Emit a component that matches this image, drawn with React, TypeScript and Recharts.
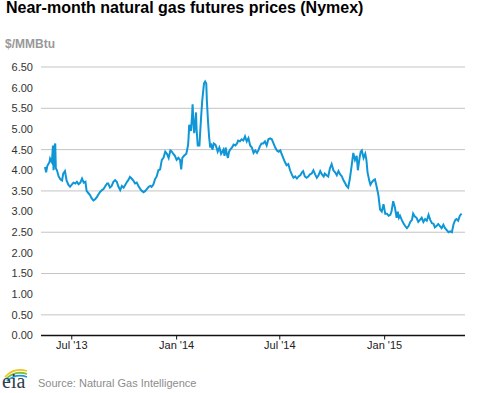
import { LineChart, Line, XAxis, YAxis, CartesianGrid } from "recharts";

// near-month settle prices, $/MMBtu
const DATES = [
  "2013-05-15", "2013-05-17", "2013-05-19", "2013-05-23", "2013-05-24", "2013-05-27", "2013-05-29", "2013-05-30",
  "2013-06-01", "2013-06-02", "2013-06-03", "2013-06-05", "2013-06-08", "2013-06-11", "2013-06-14", "2013-06-16",
  "2013-06-19", "2013-06-22", "2013-06-25", "2013-06-28", "2013-07-01", "2013-07-04", "2013-07-07", "2013-07-10",
  "2013-07-13", "2013-07-16", "2013-07-19", "2013-07-22", "2013-07-25", "2013-07-27", "2013-07-30", "2013-08-02",
  "2013-08-05", "2013-08-08", "2013-08-11", "2013-08-14", "2013-08-17", "2013-08-20", "2013-08-23", "2013-08-26",
  "2013-08-29", "2013-09-01", "2013-09-03", "2013-09-06", "2013-09-09", "2013-09-12", "2013-09-15", "2013-09-18",
  "2013-09-21", "2013-09-24", "2013-09-27", "2013-09-30", "2013-10-03", "2013-10-06", "2013-10-09", "2013-10-11",
  "2013-10-14", "2013-10-17", "2013-10-20", "2013-10-23", "2013-10-26", "2013-10-29", "2013-11-01", "2013-11-04",
  "2013-11-07", "2013-11-10", "2013-11-13", "2013-11-16", "2013-11-18", "2013-11-21", "2013-11-24", "2013-11-27",
  "2013-11-30", "2013-12-03", "2013-12-06", "2013-12-09", "2013-12-12", "2013-12-15", "2013-12-18", "2013-12-21",
  "2013-12-23", "2013-12-26", "2013-12-29", "2014-01-01", "2014-01-04", "2014-01-07", "2014-01-09", "2014-01-11",
  "2014-01-14", "2014-01-18", "2014-01-21", "2014-01-22", "2014-01-23", "2014-01-26", "2014-01-28", "2014-01-29",
  "2014-01-31", "2014-02-01", "2014-02-04", "2014-02-05", "2014-02-07", "2014-02-10", "2014-02-11", "2014-02-13",
  "2014-02-15", "2014-02-18", "2014-02-20", "2014-02-22", "2014-02-23", "2014-02-25", "2014-02-27", "2014-03-01",
  "2014-03-02", "2014-03-05", "2014-03-07", "2014-03-10", "2014-03-12", "2014-03-14", "2014-03-17", "2014-03-18",
  "2014-03-20", "2014-03-22", "2014-03-24", "2014-03-26", "2014-03-28", "2014-03-30", "2014-04-01", "2014-04-03",
  "2014-04-05", "2014-04-08", "2014-04-11", "2014-04-14", "2014-04-17", "2014-04-19", "2014-04-22", "2014-04-25",
  "2014-04-28", "2014-05-01", "2014-05-04", "2014-05-07", "2014-05-10", "2014-05-13", "2014-05-16", "2014-05-19",
  "2014-05-22", "2014-05-25", "2014-05-27", "2014-05-30", "2014-06-02", "2014-06-05", "2014-06-08", "2014-06-11",
  "2014-06-14", "2014-06-17", "2014-06-20", "2014-06-23", "2014-06-26", "2014-06-29", "2014-07-02", "2014-07-04",
  "2014-07-07", "2014-07-10", "2014-07-13", "2014-07-16", "2014-07-19", "2014-07-22", "2014-07-25", "2014-07-28",
  "2014-07-31", "2014-08-03", "2014-08-06", "2014-08-09", "2014-08-11", "2014-08-14", "2014-08-17", "2014-08-20",
  "2014-08-23", "2014-08-26", "2014-08-29", "2014-09-01", "2014-09-04", "2014-09-07", "2014-09-10", "2014-09-13",
  "2014-09-16", "2014-09-18", "2014-09-21", "2014-09-24", "2014-09-27", "2014-09-30", "2014-10-03", "2014-10-06",
  "2014-10-09", "2014-10-12", "2014-10-15", "2014-10-18", "2014-10-21", "2014-10-24", "2014-10-26", "2014-10-29",
  "2014-11-01", "2014-11-04", "2014-11-07", "2014-11-10", "2014-11-13", "2014-11-15", "2014-11-18", "2014-11-20",
  "2014-11-22", "2014-11-25", "2014-11-28", "2014-11-30", "2014-12-02", "2014-12-05", "2014-12-07", "2014-12-09",
  "2014-12-12", "2014-12-15", "2014-12-18", "2014-12-21", "2014-12-24", "2014-12-27", "2014-12-30", "2015-01-02",
  "2015-01-05", "2015-01-08", "2015-01-11", "2015-01-13", "2015-01-16", "2015-01-19", "2015-01-22", "2015-01-24",
  "2015-01-26", "2015-01-28", "2015-01-31", "2015-02-03", "2015-02-06", "2015-02-09", "2015-02-12", "2015-02-15",
  "2015-02-18", "2015-02-20", "2015-02-23", "2015-02-26", "2015-03-01", "2015-03-04", "2015-03-07", "2015-03-10",
  "2015-03-13", "2015-03-16", "2015-03-19", "2015-03-22", "2015-03-25", "2015-03-28", "2015-03-30", "2015-04-02",
  "2015-04-05", "2015-04-08", "2015-04-11", "2015-04-14", "2015-04-17", "2015-04-20", "2015-04-23", "2015-04-26",
  "2015-04-29", "2015-05-02", "2015-05-05", "2015-05-07", "2015-05-10", "2015-05-13", "2015-05-16",
];

const PRICES = [
  4.08, 3.95, 4.1, 4.2, 4.28, 4.2, 4.6, 4.0,
  4.6, 4.65, 4.05, 4.0, 3.85, 3.78, 3.75, 3.92,
  3.98, 3.75, 3.65, 3.6, 3.65, 3.7, 3.68, 3.72,
  3.66, 3.7, 3.8, 3.7, 3.72, 3.5, 3.45, 3.4,
  3.32, 3.27, 3.3, 3.35, 3.42, 3.48, 3.52, 3.55,
  3.62, 3.68, 3.68, 3.58, 3.62, 3.72, 3.76, 3.72,
  3.6, 3.52, 3.62, 3.58, 3.65, 3.72, 3.78, 3.84,
  3.8, 3.75, 3.68, 3.7, 3.62, 3.55, 3.5, 3.47,
  3.5, 3.55, 3.6, 3.62, 3.6, 3.65, 3.78, 3.85,
  4.0, 4.02, 4.25, 4.3, 4.45, 4.4, 4.3, 4.48,
  4.46, 4.4, 4.35, 4.25, 4.3, 4.25, 4.02, 4.3,
  4.35, 4.4, 4.6, 4.8, 5.1, 4.95, 5.3, 5.6,
  5.0, 4.9, 5.4, 5.0, 4.6, 4.6, 4.85, 5.3,
  5.7, 6.1, 6.15, 6.1, 5.7, 5.2, 4.8, 4.55,
  4.65, 4.5, 4.65, 4.62, 4.55, 4.45, 4.55, 4.5,
  4.4, 4.45, 4.5, 4.35, 4.55, 4.4, 4.3, 4.45,
  4.5, 4.55, 4.62, 4.6, 4.65, 4.72, 4.7, 4.75,
  4.72, 4.82, 4.7, 4.78, 4.6, 4.55, 4.42, 4.48,
  4.42, 4.5, 4.58, 4.65, 4.65, 4.7, 4.6, 4.75,
  4.77, 4.75, 4.65, 4.55, 4.48, 4.45, 4.48, 4.4,
  4.3, 4.2, 4.12, 4.15, 4.0, 3.9, 3.82, 3.85,
  3.8, 3.85, 3.88, 3.95, 3.98, 3.85, 3.82, 3.85,
  3.9, 3.92, 4.0, 3.9, 3.82, 3.88, 3.98, 3.9,
  3.85, 3.92, 3.88, 3.85, 4.05, 4.15, 4.0, 3.95,
  3.88, 3.98, 3.9, 3.85, 3.75, 3.68, 3.62, 3.58,
  3.8, 4.1, 4.42, 4.25, 4.35, 4.0, 4.3, 4.45,
  4.48, 4.3, 4.4, 4.25, 3.95, 3.75, 3.65, 3.7,
  3.75, 3.78, 3.6, 3.4, 3.05, 3.0, 3.18, 2.95,
  2.95, 2.9, 2.92, 3.0, 3.25, 3.1, 2.85, 3.0,
  2.85, 2.9, 2.8, 2.72, 2.65, 2.6, 2.65, 2.75,
  2.8, 2.95, 2.88, 2.85, 2.75, 2.8, 2.85, 2.75,
  2.82, 2.78, 2.92, 2.8, 2.72, 2.7, 2.62, 2.65,
  2.7, 2.65, 2.6, 2.68, 2.6, 2.55, 2.5, 2.52,
  2.5, 2.7, 2.8, 2.82, 2.78, 2.9, 2.95,
];

const TICK_DATES = ["2013-07-01", "2014-01-01", "2014-07-01", "2015-01-01"];
const TICK_LABELS = ["Jul '13", "Jan '14", "Jul '14", "Jan '15"];
const Y_TICKS = [0, 0.5, 1, 1.5, 2, 2.5, 3, 3.5, 4, 4.5, 5, 5.5, 6, 6.5];
const X_START = "2013-05-08";
const X_END = "2015-05-22";

const toDay = (s: string) => {
  const [y, m, d] = s.split("-").map(Number);
  return Date.UTC(y, m - 1, d) / 86400000;
};

const data = DATES.map((d, i) => ({ t: toDay(d), price: PRICES[i] }));
const xTicks = TICK_DATES.map(toDay);

const FONT = "'Liberation Sans', Arial, sans-serif";

function EiaLogo() {
  return (
    <svg width={34} height={31} style={{ position: "absolute", left: 0, top: 362 }}>
      <path d="M5 15 Q14 5 27 9" stroke="#f2c31a" strokeWidth={1.8} fill="none" />
      <path d="M6 17 Q15 8 27 12" stroke="#7cbf42" strokeWidth={1.8} fill="none" />
      <path d="M7 19 Q16 11 27 15" stroke="#1a9ad6" strokeWidth={1.8} fill="none" />
      <text x={2} y={26} fontFamily="'Liberation Serif', serif" fontSize={20} fill="#2d3b4b">
        eia
      </text>
    </svg>
  );
}

export default function App() {
  return (
    <div
      style={{
        position: "absolute",
        left: 0,
        top: 0,
        width: 477,
        height: 393,
        background: "#fff",
        fontFamily: FONT,
      }}
    >
      <div
        style={{
          position: "absolute",
          left: 6,
          top: 0,
          fontSize: 16,
          lineHeight: "16px",
          fontWeight: "bold",
          color: "#000",
          whiteSpace: "nowrap",
        }}
      >
        Near-month natural gas futures prices (Nymex)
      </div>
      <div
        style={{
          position: "absolute",
          left: 5,
          top: 37,
          fontSize: 12,
          fontWeight: "bold",
          color: "#999",
        }}
      >
        $/MMBtu
      </div>
      <div style={{ position: "absolute", left: 0, top: 0 }}>
        <LineChart
          width={477}
          height={393}
          data={data}
          margin={{ top: 67, right: 12, left: 0, bottom: 27.5 }}
        >
          <CartesianGrid vertical={false} stroke="#c4c4c4" />
          <XAxis
            dataKey="t"
            type="number"
            domain={[toDay(X_START), toDay(X_END)]}
            ticks={xTicks}
            tickFormatter={(v: number) => TICK_LABELS[xTicks.indexOf(v)] ?? ""}
            height={30}
            tickSize={4}
            tickMargin={2}
            axisLine={{ stroke: "#111", strokeWidth: 1.5 }}
            tickLine={{ stroke: "#111" }}
            tick={{ fill: "#222", fontSize: 11, fontFamily: FONT }}
          />
          <YAxis
            type="number"
            domain={[0, 6.5]}
            ticks={Y_TICKS}
            width={41}
            axisLine={false}
            tickLine={false}
            tickFormatter={(v: number) => v.toFixed(2)}
            tick={{ fill: "#333", fontSize: 11, fontFamily: FONT }}
          />
          <Line
            type="linear"
            dataKey="price"
            stroke="#0f96d6"
            strokeWidth={2}
            dot={false}
            isAnimationActive={false}
          />
        </LineChart>
      </div>
      <EiaLogo />
      <div
        style={{
          position: "absolute",
          left: 38,
          top: 377,
          fontSize: 11,
          color: "#8c8c8c",
          whiteSpace: "nowrap",
        }}
      >
        Source: Natural Gas Intelligence
      </div>
    </div>
  );
}
